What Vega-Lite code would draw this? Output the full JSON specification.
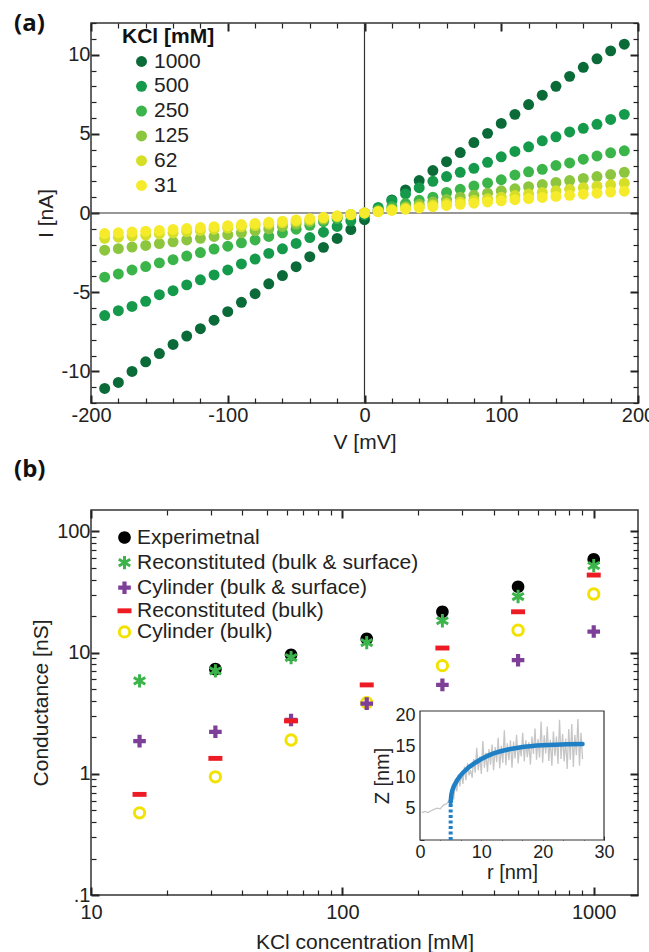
{
 "$schema": "https://vega.github.io/schema/vega-lite/v6.json",
 "padding": {"left": 13, "top": 11, "right": 0, "bottom": 0},
 "config": {
  "font": "Liberation Sans",
  "view": {"stroke": "#333", "strokeWidth": 1.5},
  "axis": {"grid": false, "domain": false, "labelFont": "Liberation Sans", "labelFontSize": 20, "labelColor": "#222", "titleFont": "Liberation Sans", "titleFontSize": 21, "titleFontWeight": "normal", "titleColor": "#222", "tickColor": "#222"},
  "legend": {"labelFont": "Liberation Sans", "labelFontSize": 21, "labelColor": "#222", "labelLimit": 400},
  "title": {"font": "Open Sans", "fontSize": 24, "fontWeight": "bold", "anchor": "start", "frame": "group", "baseline": "alphabetic", "color": "#111"}
 },
 "datasets": {
  "iv": [
   {"c":"1000","V":-190,"I":-11.08},{"c":"1000","V":-180,"I":-10.70},{"c":"1000","V":-170,"I":-10.01},{"c":"1000","V":-160,"I":-9.40},{"c":"1000","V":-150,"I":-8.88},{"c":"1000","V":-140,"I":-8.30},{"c":"1000","V":-130,"I":-7.77},{"c":"1000","V":-120,"I":-7.31},{"c":"1000","V":-110,"I":-6.77},{"c":"1000","V":-100,"I":-6.23},{"c":"1000","V":-90,"I":-5.64},{"c":"1000","V":-80,"I":-5.10},{"c":"1000","V":-70,"I":-4.47},{"c":"1000","V":-60,"I":-3.95},{"c":"1000","V":-50,"I":-3.39},{"c":"1000","V":-40,"I":-2.76},{"c":"1000","V":-30,"I":-2.17},{"c":"1000","V":-20,"I":-1.61},{"c":"1000","V":-10,"I":-1.05},{"c":"1000","V":0,"I":-0.42},{"c":"1000","V":10,"I":0.13},{"c":"1000","V":20,"I":0.83},{"c":"1000","V":30,"I":1.46},{"c":"1000","V":40,"I":2.05},{"c":"1000","V":50,"I":2.68},{"c":"1000","V":60,"I":3.24},{"c":"1000","V":70,"I":3.82},{"c":"1000","V":80,"I":4.45},{"c":"1000","V":90,"I":5.03},{"c":"1000","V":100,"I":5.66},{"c":"1000","V":110,"I":6.23},{"c":"1000","V":120,"I":6.85},{"c":"1000","V":130,"I":7.44},{"c":"1000","V":140,"I":8.0},{"c":"1000","V":150,"I":8.63},{"c":"1000","V":160,"I":9.2},{"c":"1000","V":170,"I":9.74},{"c":"1000","V":180,"I":10.24},{"c":"1000","V":190,"I":10.66},
   {"c":"500","V":-190,"I":-6.48},{"c":"500","V":-180,"I":-6.17},{"c":"500","V":-170,"I":-5.9},{"c":"500","V":-160,"I":-5.58},{"c":"500","V":-150,"I":-5.16},{"c":"500","V":-140,"I":-4.91},{"c":"500","V":-130,"I":-4.54},{"c":"500","V":-120,"I":-4.22},{"c":"500","V":-110,"I":-3.91},{"c":"500","V":-100,"I":-3.6},{"c":"500","V":-90,"I":-3.22},{"c":"500","V":-80,"I":-2.91},{"c":"500","V":-70,"I":-2.55},{"c":"500","V":-60,"I":-2.26},{"c":"500","V":-50,"I":-1.92},{"c":"500","V":-40,"I":-1.55},{"c":"500","V":-30,"I":-1.21},{"c":"500","V":-20,"I":-0.85},{"c":"500","V":-10,"I":-0.5},{"c":"500","V":0,"I":-0.12},{"c":"500","V":10,"I":0.35},{"c":"500","V":20,"I":0.78},{"c":"500","V":30,"I":1.2},{"c":"500","V":40,"I":1.6},{"c":"500","V":50,"I":2.0},{"c":"500","V":60,"I":2.3},{"c":"500","V":70,"I":2.57},{"c":"500","V":80,"I":2.82},{"c":"500","V":90,"I":3.2},{"c":"500","V":100,"I":3.55},{"c":"500","V":110,"I":3.89},{"c":"500","V":120,"I":4.18},{"c":"500","V":130,"I":4.56},{"c":"500","V":140,"I":4.81},{"c":"500","V":150,"I":5.12},{"c":"500","V":160,"I":5.35},{"c":"500","V":170,"I":5.6},{"c":"500","V":180,"I":5.91},{"c":"500","V":190,"I":6.23},
   {"c":"250","V":-190,"I":-4.05},{"c":"250","V":-180,"I":-3.85},{"c":"250","V":-170,"I":-3.6},{"c":"250","V":-160,"I":-3.38},{"c":"250","V":-150,"I":-3.15},{"c":"250","V":-140,"I":-2.95},{"c":"250","V":-130,"I":-2.72},{"c":"250","V":-120,"I":-2.5},{"c":"250","V":-110,"I":-2.28},{"c":"250","V":-100,"I":-2.1},{"c":"250","V":-90,"I":-1.88},{"c":"250","V":-80,"I":-1.7},{"c":"250","V":-70,"I":-1.48},{"c":"250","V":-60,"I":-1.25},{"c":"250","V":-50,"I":-1.02},{"c":"250","V":-40,"I":-0.78},{"c":"250","V":-30,"I":-0.55},{"c":"250","V":-20,"I":-0.35},{"c":"250","V":-10,"I":-0.15},{"c":"250","V":0,"I":0.0},{"c":"250","V":10,"I":0.2},{"c":"250","V":20,"I":0.4},{"c":"250","V":30,"I":0.6},{"c":"250","V":40,"I":0.8},{"c":"250","V":50,"I":1.0},{"c":"250","V":60,"I":1.3},{"c":"250","V":70,"I":1.5},{"c":"250","V":80,"I":1.7},{"c":"250","V":90,"I":1.9},{"c":"250","V":100,"I":2.1},{"c":"250","V":110,"I":2.4},{"c":"250","V":120,"I":2.6},{"c":"250","V":130,"I":2.76},{"c":"250","V":140,"I":3.0},{"c":"250","V":150,"I":3.16},{"c":"250","V":160,"I":3.4},{"c":"250","V":170,"I":3.6},{"c":"250","V":180,"I":3.8},{"c":"250","V":190,"I":3.93},
   {"c":"125","V":-190,"I":-2.35},{"c":"125","V":-180,"I":-2.25},{"c":"125","V":-170,"I":-2.15},{"c":"125","V":-160,"I":-2.05},{"c":"125","V":-150,"I":-1.93},{"c":"125","V":-140,"I":-1.82},{"c":"125","V":-130,"I":-1.7},{"c":"125","V":-120,"I":-1.6},{"c":"125","V":-110,"I":-1.48},{"c":"125","V":-100,"I":-1.37},{"c":"125","V":-90,"I":-1.25},{"c":"125","V":-80,"I":-1.12},{"c":"125","V":-70,"I":-1.0},{"c":"125","V":-60,"I":-0.85},{"c":"125","V":-50,"I":-0.7},{"c":"125","V":-40,"I":-0.55},{"c":"125","V":-30,"I":-0.4},{"c":"125","V":-20,"I":-0.25},{"c":"125","V":-10,"I":-0.1},{"c":"125","V":0,"I":0.0},{"c":"125","V":10,"I":0.12},{"c":"125","V":20,"I":0.25},{"c":"125","V":30,"I":0.4},{"c":"125","V":40,"I":0.55},{"c":"125","V":50,"I":0.7},{"c":"125","V":60,"I":0.85},{"c":"125","V":70,"I":1.0},{"c":"125","V":80,"I":1.12},{"c":"125","V":90,"I":1.25},{"c":"125","V":100,"I":1.4},{"c":"125","V":110,"I":1.53},{"c":"125","V":120,"I":1.66},{"c":"125","V":130,"I":1.8},{"c":"125","V":140,"I":1.93},{"c":"125","V":150,"I":2.05},{"c":"125","V":160,"I":2.18},{"c":"125","V":170,"I":2.3},{"c":"125","V":180,"I":2.43},{"c":"125","V":190,"I":2.57},
   {"c":"62","V":-190,"I":-1.6},{"c":"62","V":-180,"I":-1.53},{"c":"62","V":-170,"I":-1.46},{"c":"62","V":-160,"I":-1.39},{"c":"62","V":-150,"I":-1.32},{"c":"62","V":-140,"I":-1.25},{"c":"62","V":-130,"I":-1.17},{"c":"62","V":-120,"I":-1.1},{"c":"62","V":-110,"I":-1.02},{"c":"62","V":-100,"I":-0.95},{"c":"62","V":-90,"I":-0.87},{"c":"62","V":-80,"I":-0.79},{"c":"62","V":-70,"I":-0.71},{"c":"62","V":-60,"I":-0.62},{"c":"62","V":-50,"I":-0.53},{"c":"62","V":-40,"I":-0.43},{"c":"62","V":-30,"I":-0.32},{"c":"62","V":-20,"I":-0.22},{"c":"62","V":-10,"I":-0.1},{"c":"62","V":0,"I":0.0},{"c":"62","V":10,"I":0.1},{"c":"62","V":20,"I":0.2},{"c":"62","V":30,"I":0.3},{"c":"62","V":40,"I":0.4},{"c":"62","V":50,"I":0.5},{"c":"62","V":60,"I":0.6},{"c":"62","V":70,"I":0.7},{"c":"62","V":80,"I":0.8},{"c":"62","V":90,"I":0.9},{"c":"62","V":100,"I":1.0},{"c":"62","V":110,"I":1.1},{"c":"62","V":120,"I":1.2},{"c":"62","V":130,"I":1.3},{"c":"62","V":140,"I":1.4},{"c":"62","V":150,"I":1.5},{"c":"62","V":160,"I":1.6},{"c":"62","V":170,"I":1.69},{"c":"62","V":180,"I":1.78},{"c":"62","V":190,"I":1.88},
   {"c":"31","V":-190,"I":-1.3},{"c":"31","V":-180,"I":-1.25},{"c":"31","V":-170,"I":-1.2},{"c":"31","V":-160,"I":-1.15},{"c":"31","V":-150,"I":-1.1},{"c":"31","V":-140,"I":-1.04},{"c":"31","V":-130,"I":-0.98},{"c":"31","V":-120,"I":-0.92},{"c":"31","V":-110,"I":-0.86},{"c":"31","V":-100,"I":-0.8},{"c":"31","V":-90,"I":-0.73},{"c":"31","V":-80,"I":-0.66},{"c":"31","V":-70,"I":-0.59},{"c":"31","V":-60,"I":-0.52},{"c":"31","V":-50,"I":-0.44},{"c":"31","V":-40,"I":-0.36},{"c":"31","V":-30,"I":-0.27},{"c":"31","V":-20,"I":-0.18},{"c":"31","V":-10,"I":-0.09},{"c":"31","V":0,"I":0.0},{"c":"31","V":10,"I":0.08},{"c":"31","V":20,"I":0.16},{"c":"31","V":30,"I":0.24},{"c":"31","V":40,"I":0.32},{"c":"31","V":50,"I":0.4},{"c":"31","V":60,"I":0.48},{"c":"31","V":70,"I":0.55},{"c":"31","V":80,"I":0.62},{"c":"31","V":90,"I":0.7},{"c":"31","V":100,"I":0.77},{"c":"31","V":110,"I":0.84},{"c":"31","V":120,"I":0.91},{"c":"31","V":130,"I":0.98},{"c":"31","V":140,"I":1.05},{"c":"31","V":150,"I":1.12},{"c":"31","V":160,"I":1.19},{"c":"31","V":170,"I":1.25},{"c":"31","V":180,"I":1.32},{"c":"31","V":190,"I":1.38}
  ],
  "cond": [
   {"s":"Experimetnal","x":31.25,"y":7.3},{"s":"Experimetnal","x":62.5,"y":9.6},{"s":"Experimetnal","x":125,"y":13.0},{"s":"Experimetnal","x":250,"y":21.7},{"s":"Experimetnal","x":500,"y":34.9},{"s":"Experimetnal","x":1000,"y":58.7},
   {"s":"Cylinder (bulk)","x":15.6,"y":0.476},{"s":"Cylinder (bulk)","x":31.25,"y":0.944},{"s":"Cylinder (bulk)","x":62.5,"y":1.9},{"s":"Cylinder (bulk)","x":125,"y":3.86},{"s":"Cylinder (bulk)","x":250,"y":7.8},{"s":"Cylinder (bulk)","x":500,"y":15.3},{"s":"Cylinder (bulk)","x":1000,"y":30.4},
   {"s":"Cylinder (bulk & surface)","x":15.6,"y":1.86},{"s":"Cylinder (bulk & surface)","x":31.25,"y":2.22},{"s":"Cylinder (bulk & surface)","x":62.5,"y":2.78},{"s":"Cylinder (bulk & surface)","x":125,"y":3.79},{"s":"Cylinder (bulk & surface)","x":250,"y":5.41},{"s":"Cylinder (bulk & surface)","x":500,"y":8.65},{"s":"Cylinder (bulk & surface)","x":1000,"y":14.9},
   {"s":"Reconstituted (bulk)","x":15.6,"y":0.676},{"s":"Reconstituted (bulk)","x":31.25,"y":1.34},{"s":"Reconstituted (bulk)","x":62.5,"y":2.73},{"s":"Reconstituted (bulk)","x":125,"y":5.41},{"s":"Reconstituted (bulk)","x":250,"y":10.9},{"s":"Reconstituted (bulk)","x":500,"y":21.7},{"s":"Reconstituted (bulk)","x":1000,"y":43.6},
   {"s":"Reconstituted (bulk & surface)","x":15.6,"y":5.84},{"s":"Reconstituted (bulk & surface)","x":31.25,"y":7.06},{"s":"Reconstituted (bulk & surface)","x":62.5,"y":9.1},{"s":"Reconstituted (bulk & surface)","x":125,"y":12.1},{"s":"Reconstituted (bulk & surface)","x":250,"y":18.3},{"s":"Reconstituted (bulk & surface)","x":500,"y":29.0},{"s":"Reconstituted (bulk & surface)","x":1000,"y":52.1}
  ],
  "gray": [
   {"r":0.3,"z":4.4},{"r":0.8,"z":4.6},{"r":1.3,"z":4.4},{"r":1.8,"z":4.7},{"r":2.3,"z":4.9},{"r":2.8,"z":5.1},{"r":3.3,"z":5.0},{"r":3.8,"z":5.6},{"r":4.3,"z":5.8},{"r":4.7,"z":6.3},
   {"r":5.0,"z":5.5},{"r":5.25,"z":8.0},{"r":5.5,"z":6.5},{"r":5.75,"z":9.2},{"r":6.0,"z":7.8},{"r":6.25,"z":10.5},{"r":6.5,"z":8.6},{"r":6.75,"z":10.9},{"r":7.0,"z":9.0},{"r":7.25,"z":11.8},{"r":7.5,"z":9.6},{"r":7.75,"z":12.3},{"r":8.0,"z":10.4},{"r":8.25,"z":11.2},{"r":8.5,"z":10.0},{"r":8.75,"z":13.0},{"r":9.0,"z":10.8},{"r":9.25,"z":14.8},{"r":9.5,"z":11.2},{"r":9.75,"z":13.4},{"r":10.0,"z":10.6},{"r":10.25,"z":15.9},{"r":10.5,"z":11.6},{"r":10.75,"z":14.0},{"r":11.0,"z":10.9},{"r":11.25,"z":14.6},{"r":11.5,"z":12.1},{"r":11.75,"z":15.3},{"r":12.0,"z":11.2},{"r":12.25,"z":14.9},{"r":12.5,"z":12.5},{"r":12.75,"z":16.4},{"r":13.0,"z":11.5},{"r":13.25,"z":15.1},{"r":13.5,"z":12.4},{"r":13.75,"z":17.6},{"r":14.0,"z":12.0},{"r":14.25,"z":15.5},{"r":14.5,"z":12.8},{"r":14.75,"z":16.0},{"r":15.0,"z":11.6},{"r":15.25,"z":15.8},{"r":15.5,"z":13.1},{"r":15.75,"z":16.9},{"r":16.0,"z":12.3},{"r":16.25,"z":15.2},{"r":16.5,"z":13.4},{"r":16.75,"z":17.2},{"r":17.0,"z":12.6},{"r":17.25,"z":16.0},{"r":17.5,"z":13.3},{"r":17.75,"z":15.7},{"r":18.0,"z":12.1},{"r":18.25,"z":16.6},{"r":18.5,"z":13.8},{"r":18.75,"z":17.9},{"r":19.0,"z":12.9},{"r":19.25,"z":16.2},{"r":19.5,"z":13.2},{"r":19.75,"z":19.0},{"r":20.0,"z":12.4},{"r":20.25,"z":16.8},{"r":20.5,"z":13.9},{"r":20.75,"z":18.2},{"r":21.0,"z":12.7},{"r":21.25,"z":16.1},{"r":21.5,"z":11.9},{"r":21.75,"z":17.4},{"r":22.0,"z":13.5},{"r":22.25,"z":16.6},{"r":22.5,"z":12.2},{"r":22.75,"z":19.3},{"r":23.0,"z":13.0},{"r":23.25,"z":17.0},{"r":23.5,"z":12.6},{"r":23.75,"z":16.3},{"r":24.0,"z":11.4},{"r":24.25,"z":17.8},{"r":24.5,"z":12.9},{"r":24.75,"z":18.6},{"r":25.0,"z":11.7},{"r":25.25,"z":16.9},{"r":25.5,"z":13.6},{"r":25.75,"z":19.4},{"r":26.0,"z":11.9},{"r":26.25,"z":17.2},{"r":26.5,"z":13.0}
  ],
  "blue": [
   {"r":5,"z":6.1},{"r":5.1,"z":7.2},{"r":5.25,"z":7.9},{"r":5.5,"z":8.6},{"r":6,"z":9.5},{"r":6.5,"z":10.2},{"r":7,"z":10.8},{"r":8,"z":11.7},{"r":9,"z":12.4},{"r":10,"z":13.0},{"r":11,"z":13.5},{"r":12,"z":13.9},{"r":13,"z":14.2},{"r":14,"z":14.45},{"r":15,"z":14.65},{"r":16,"z":14.8},{"r":17,"z":14.95},{"r":18,"z":15.05},{"r":19,"z":15.15},{"r":20,"z":15.2},{"r":22,"z":15.3},{"r":24,"z":15.35},{"r":26.5,"z":15.4}
  ]
 },
 "spacing": 4,
 "resolve": {"legend": {"color": "independent", "fill": "independent", "stroke": "independent", "shape": "independent"}},
 "vconcat": [
  {
   "title": {"text": "(a)", "dx": -77, "offset": -14},
   "width": 547, "height": 380,
   "layer": [
    {
     "data": {"values": [{}]},
     "mark": {"type": "rule", "color": "#333", "strokeWidth": 1.2},
     "encoding": {
      "x": {"datum": 0, "type": "quantitative",
       "scale": {"domain": [-200, 200], "nice": false, "zero": false},
       "axis": {"orient": "top", "labels": false, "title": null,
        "values": [-200,-180,-160,-140,-120,-100,-80,-60,-40,-20,0,20,40,60,80,100,120,140,160,180,200],
        "tickSize": {"condition": {"test": "datum.value % 100 == 0", "value": -8}, "value": -5},
        "tickWidth": {"condition": {"test": "datum.value % 100 == 0", "value": 2}, "value": 1.2}}}
     }
    },
    {
     "data": {"values": [{}]},
     "mark": {"type": "rule", "color": "#333", "strokeWidth": 1.2},
     "encoding": {
      "y": {"datum": 0, "type": "quantitative",
       "scale": {"domain": [-12, 12], "nice": false, "zero": false},
       "axis": {"orient": "right", "labels": false, "title": null,
        "values": [-12,-11,-10,-9,-8,-7,-6,-5,-4,-3,-2,-1,0,1,2,3,4,5,6,7,8,9,10,11,12],
        "tickSize": {"condition": {"test": "datum.value % 5 == 0", "value": -8}, "value": -5},
        "tickWidth": {"condition": {"test": "datum.value % 5 == 0", "value": 2}, "value": 1.2}}}
     }
    },
    {
     "data": {"name": "iv"},
     "mark": {"type": "point", "filled": true, "opacity": 1, "size": 120},
     "encoding": {
      "x": {"field": "V", "type": "quantitative",
       "scale": {"domain": [-200, 200], "nice": false, "zero": false},
       "axis": {"orient": "bottom", "title": "V [mV]", "titlePadding": 6, "labelPadding": 10,
        "values": [-200,-180,-160,-140,-120,-100,-80,-60,-40,-20,0,20,40,60,80,100,120,140,160,180,200],
        "labelExpr": "datum.value % 100 == 0 ? '' + datum.value : ''",
        "labelFlush": false,
        "tickSize": {"condition": {"test": "datum.value % 100 == 0", "value": -8}, "value": -5},
        "tickWidth": {"condition": {"test": "datum.value % 100 == 0", "value": 2}, "value": 1.2}}},
      "y": {"field": "I", "type": "quantitative",
       "scale": {"domain": [-12, 12], "nice": false, "zero": false},
       "axis": {"orient": "left", "title": "I [nA]", "titlePadding": 5, "labelPadding": 9,
        "values": [-12,-11,-10,-9,-8,-7,-6,-5,-4,-3,-2,-1,0,1,2,3,4,5,6,7,8,9,10,11,12],
        "labelExpr": "datum.value % 5 == 0 && abs(datum.value) <= 10 ? '' + datum.value : ''",
        "tickSize": {"condition": {"test": "datum.value % 5 == 0", "value": -8}, "value": -5},
        "tickWidth": {"condition": {"test": "datum.value % 5 == 0", "value": 2}, "value": 1.2}}},
      "color": {"field": "c", "type": "nominal",
       "scale": {"domain": ["1000","500","250","125","62","31"], "range": ["#0b6b38","#159a4b","#3bb54a","#8cc63e","#d5df27","#f6eb2b"]},
       "legend": {"title": "KCl [mM]", "orient": "none", "legendX": 31, "legendY": 3,
        "titleFont": "Liberation Sans", "titleFontSize": 21, "titleFontWeight": "bold", "titleColor": "#111", "titlePadding": 4,
        "symbolType": "circle", "symbolSize": 120, "symbolOffset": 9, "rowPadding": 2.8, "labelOffset": 2}}
     }
    }
   ],
   "resolve": {"scale": {"x": "independent", "y": "independent"}}
  },
  {
   "title": {"text": "(b)", "dx": -77, "offset": 27},
   "width": 547, "height": 385,
   "layer": [
    {
     "data": {"name": "cond"},
     "mark": {"type": "point", "opacity": 0},
     "encoding": {
      "x": {"field": "x", "type": "quantitative",
       "scale": {"type": "log", "domain": [10, 1500], "nice": false},
       "axis": {"orient": "top", "labels": false, "title": null,
        "values": [10,20,30,40,50,60,70,80,90,100,200,300,400,500,600,700,800,900,1000],
        "tickSize": {"condition": {"test": "datum.value == 10 || datum.value == 100 || datum.value == 1000", "value": -8}, "value": -5},
        "tickWidth": {"condition": {"test": "datum.value == 10 || datum.value == 100 || datum.value == 1000", "value": 2}, "value": 1.2}}},
      "y": {"field": "y", "type": "quantitative",
       "scale": {"type": "log", "domain": [0.1, 150], "nice": false},
       "axis": {"orient": "right", "labels": false, "title": null,
        "values": [0.1,0.2,0.3,0.4,0.5,0.6,0.7,0.8,0.9,1,2,3,4,5,6,7,8,9,10,20,30,40,50,60,70,80,90,100],
        "tickSize": {"condition": {"test": "datum.value == 0.1 || datum.value == 1 || datum.value == 10 || datum.value == 100", "value": -8}, "value": -5},
        "tickWidth": {"condition": {"test": "datum.value == 0.1 || datum.value == 1 || datum.value == 10 || datum.value == 100", "value": 2}, "value": 1.2}}}
     }
    },
    {
     "data": {"name": "cond"},
     "mark": {"type": "point", "filled": true, "opacity": 1, "size": 196, "strokeWidth": 3},
     "encoding": {
      "x": {"field": "x", "type": "quantitative",
       "scale": {"type": "log", "domain": [10, 1500], "nice": false},
       "axis": {"orient": "bottom", "title": "KCl concentration [mM]", "titlePadding": 9, "labelPadding": 15,
        "values": [10,20,30,40,50,60,70,80,90,100,200,300,400,500,600,700,800,900,1000],
        "labelExpr": "(datum.value == 10 || datum.value == 100 || datum.value == 1000) ? '' + datum.value : ''",
        "labelFlush": false,
        "tickSize": {"condition": {"test": "datum.value == 10 || datum.value == 100 || datum.value == 1000", "value": -8}, "value": -5},
        "tickWidth": {"condition": {"test": "datum.value == 10 || datum.value == 100 || datum.value == 1000", "value": 2}, "value": 1.2}}},
      "y": {"field": "y", "type": "quantitative",
       "scale": {"type": "log", "domain": [0.1, 150], "nice": false},
       "axis": {"orient": "left", "title": "Conductance [nS]", "titlePadding": 5, "labelPadding": 9,
        "values": [0.1,0.2,0.3,0.4,0.5,0.6,0.7,0.8,0.9,1,2,3,4,5,6,7,8,9,10,20,30,40,50,60,70,80,90,100],
        "labelExpr": "datum.value == 0.1 ? '.1' : (datum.value == 1 || datum.value == 10 || datum.value == 100) ? '' + datum.value : ''",
        "labelFlush": false,
        "tickSize": {"condition": {"test": "datum.value == 0.1 || datum.value == 1 || datum.value == 10 || datum.value == 100", "value": -8}, "value": -5},
        "tickWidth": {"condition": {"test": "datum.value == 0.1 || datum.value == 1 || datum.value == 10 || datum.value == 100", "value": 2}, "value": 1.2}}},
      "shape": {"field": "s", "type": "nominal",
       "scale": {"domain": ["Experimetnal","Reconstituted (bulk & surface)","Cylinder (bulk & surface)","Reconstituted (bulk)","Cylinder (bulk)"],
        "range": ["M0.9,0A0.9,0.9,0,1,1,-0.9,0A0.9,0.9,0,1,1,0.9,0Z", "M0,-0.95L0,0.95M-0.82,-0.475L0.82,0.475M-0.82,0.475L0.82,-0.475", "M-0.9,-0.3H-0.3V-0.9H0.3V-0.3H0.9V0.3H0.3V0.9H-0.3V0.3H-0.9Z", "M-1,-0.35H1V0.35H-1Z", "M0.74,0A0.74,0.74,0,1,1,-0.74,0A0.74,0.74,0,1,1,0.74,0Z"]},
       "legend": {"title": null, "orient": "none", "legendX": 23, "legendY": 17, "symbolSize": 196, "symbolStrokeWidth": 3, "rowPadding": -0.9, "labelOffset": 2}},
      "fill": {"field": "s", "type": "nominal",
       "scale": {"domain": ["Experimetnal","Reconstituted (bulk & surface)","Cylinder (bulk & surface)","Reconstituted (bulk)","Cylinder (bulk)"],
        "range": ["#000000","transparent","#7d3f98","#ed1c24","transparent"]},
       "legend": {"title": null, "orient": "none", "legendX": 23, "legendY": 17, "symbolSize": 196, "symbolStrokeWidth": 3, "rowPadding": -0.9, "labelOffset": 2}},
      "stroke": {"field": "s", "type": "nominal",
       "scale": {"domain": ["Experimetnal","Reconstituted (bulk & surface)","Cylinder (bulk & surface)","Reconstituted (bulk)","Cylinder (bulk)"],
        "range": ["transparent","#3cb44b","transparent","transparent","#f2e200"]},
       "legend": {"title": null, "orient": "none", "legendX": 23, "legendY": 17, "symbolSize": 196, "symbolStrokeWidth": 3, "rowPadding": -0.9, "labelOffset": 2}}
     }
    },
    {
     "layer": [
      {
       "data": {"values": [{}]},
       "mark": {"type": "rect", "fill": "white", "stroke": "#333", "strokeWidth": 1.2},
       "encoding": {
        "x": {"datum": 0, "type": "quantitative",
         "scale": {"domain": [0, 30], "range": [329, 513], "nice": false, "zero": false},
         "axis": {"orient": "bottom", "offset": -55, "title": "r [nm]", "titlePadding": 1, "labelPadding": 7, "labelFontSize": 18, "titleFontSize": 20,
          "values": [0,1.667,3.333,5,6.667,8.333,10,11.667,13.333,15,16.667,18.333,20,21.667,23.333,25,26.667,28.333,30],
          "labelExpr": "datum.value % 5 == 0 ? '' + datum.value : ''",
          "labelFlush": false,
          "tickSize": {"condition": {"test": "datum.value % 5 == 0", "value": -4}, "value": -2.5},
          "tickWidth": 1}},
        "x2": {"datum": 30},
        "y": {"datum": 0, "type": "quantitative",
         "scale": {"domain": [0, 20.7], "range": [330, 201], "nice": false, "zero": false},
         "axis": {"orient": "left", "offset": -329, "title": "Z [nm]", "titlePadding": 2, "labelPadding": 9, "labelFontSize": 18, "titleFontSize": 20,
          "values": [0,2.5,5,7.5,10,12.5,15,17.5,20],
          "labelExpr": "datum.value % 5 == 0 && datum.value > 0 ? '' + datum.value : ''",
          "labelFlush": false,
          "tickSize": {"condition": {"test": "datum.value % 5 == 0", "value": -4}, "value": -2.5},
          "tickWidth": 1}},
        "y2": {"datum": 20.7}
       }
      },
      {
       "data": {"name": "gray"},
       "mark": {"type": "line", "color": "#c6c6c6", "strokeWidth": 1.3},
       "encoding": {
        "x": {"field": "r", "type": "quantitative", "scale": {"domain": [0, 30], "range": [329, 513], "nice": false, "zero": false}},
        "y": {"field": "z", "type": "quantitative", "scale": {"domain": [0, 20.7], "range": [330, 201], "nice": false, "zero": false}}
       }
      },
      {
       "data": {"name": "blue"},
       "mark": {"type": "line", "color": "#1f80c6", "strokeWidth": 4.5, "strokeCap": "round"},
       "encoding": {
        "x": {"field": "r", "type": "quantitative", "scale": {"domain": [0, 30], "range": [329, 513], "nice": false, "zero": false}},
        "y": {"field": "z", "type": "quantitative", "scale": {"domain": [0, 20.7], "range": [330, 201], "nice": false, "zero": false}}
       }
      },
      {
       "data": {"values": [{}]},
       "mark": {"type": "rule", "color": "#1f80c6", "strokeWidth": 4, "strokeDash": [3, 2.5]},
       "encoding": {
        "x": {"datum": 5, "type": "quantitative"},
        "y": {"datum": 0, "type": "quantitative"},
        "y2": {"datum": 6.1}
       }
      }
     ]
    }
   ],
   "resolve": {"scale": {"x": "independent", "y": "independent"}}
  }
 ]
}
